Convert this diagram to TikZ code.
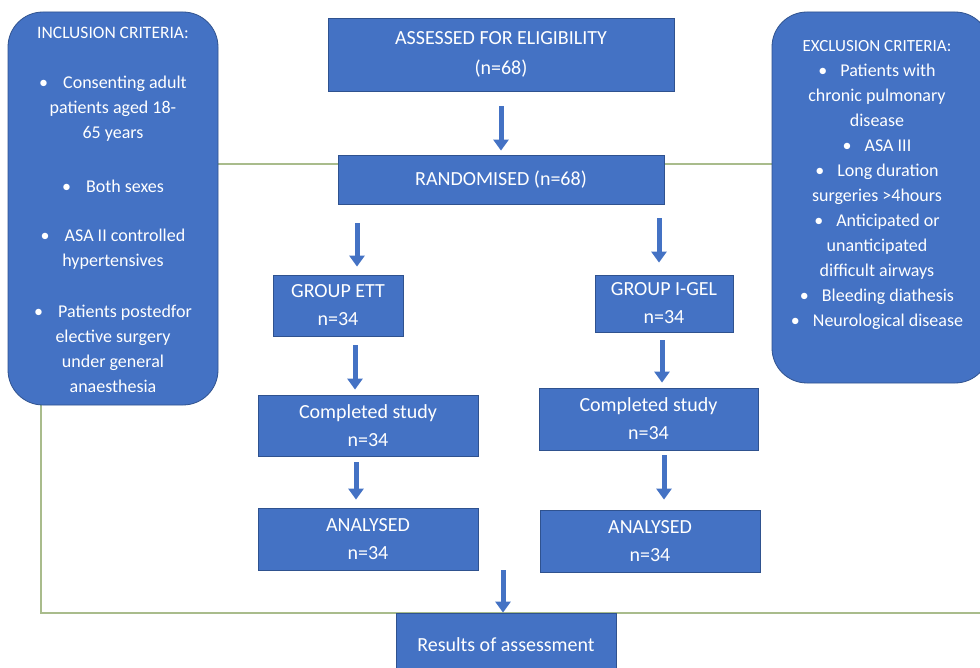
\documentclass[tikz,border=0pt]{standalone}
\usepackage{fontspec}
\setmainfont{Carlito}
\usetikzlibrary{arrows.meta,backgrounds}
\definecolor{boxblue}{HTML}{4472C4}
\definecolor{edgeblue}{HTML}{2F528F}
\definecolor{linegreen}{HTML}{A9BC8C}
\begin{document}
\begin{tikzpicture}[x=1pt,y=-1pt,
  fbox/.style={draw=edgeblue, line width=0.8pt, fill=boxblue, text=white, align=center, inner sep=0pt, font=\fontsize{20}{28}\selectfont},
  rbox/.style={draw=edgeblue, line width=0.8pt, fill=boxblue, rounded corners=35pt, inner sep=0pt},
  crit/.style={text=white, align=center, inner sep=0pt, font=\fontsize{18}{25}\selectfont},
  arr/.style={draw=boxblue, line width=5pt, -{Triangle[width=15pt,length=11pt]}},
  gline/.style={draw=linegreen, line width=1.5pt}]
\useasboundingbox (0,0) rectangle (980,668);
% criteria boxes
\node[rbox, minimum width=210pt, minimum height=393pt] (inc) at (113,208.5) {};
\node[rbox, minimum width=218pt, minimum height=371pt] (exc) at (881,197.5) {};
\node[crit, font=\fontsize{17.5}{25}\selectfont] (inch) at (113,33) {INCLUSION CRITERIA:};
\node[crit] (inc1) at (113,109) {•\hspace{15pt}Consenting adult\\patients aged 18-\\65 years};
\node[crit] (inc2) at (113,186) {•\hspace{15pt}Both sexes};
\node[crit] (inc3) at (113,249) {•\hspace{15pt}ASA II controlled\\hypertensives};
\node[crit] (inc4) at (113,349) {•\hspace{15pt}Patients postedfor\\elective surgery\\under general\\anaesthesia};
\node[crit] (exct) at (877,185.5) {{\fontsize{17}{25}\selectfont EXCLUSION CRITERIA:}\\
  •\hspace{13pt}Patients with\\chronic pulmonary\\disease\\
  •\hspace{13pt}ASA III\\
  •\hspace{13pt}Long duration\\surgeries >4hours\\
  •\hspace{13pt}Anticipated or\\unanticipated\\difficult airways\\
  •\hspace{13pt}Bleeding diathesis\\
  •\hspace{13pt}Neurological disease};
% flow boxes
\node[fbox, minimum width=346pt, minimum height=73pt, font=\fontsize{20}{30}\selectfont] (assess) at (501,54.5) {ASSESSED FOR ELIGIBILITY\\(n=68)};
\node[fbox, minimum width=326pt, minimum height=49pt] (rand) at (501,179.5) {RANDOMISED (n=68)};
\node[fbox, minimum width=130pt, minimum height=61pt] (ett) at (338,305.5) {GROUP ETT\\n=34};
\node[fbox, minimum width=138pt, minimum height=57pt] (igel) at (664,303.5) {GROUP I-GEL\\n=34};
\node[fbox, minimum width=220pt, minimum height=61pt] (comp1) at (368,425.5) {Completed study\\n=34};
\node[fbox, minimum width=219pt, minimum height=62pt] (comp2) at (648.5,419) {Completed study\\n=34};
\node[fbox, minimum width=220pt, minimum height=62pt] (ana1) at (368,539) {ANALYSED\\n=34};
\node[fbox, minimum width=220pt, minimum height=62pt] (ana2) at (650,541) {ANALYSED\\n=34};
\node[fbox, minimum width=220pt, minimum height=64pt] (res) at (506,645) {Results of assessment};
% green lines
\coordinate (bl) at (41,613);
\coordinate (br) at (980,613);
\begin{scope}[on background layer]
\fill[white] (0,0) rectangle (980,668);
\draw[gline] (inc.east |- 0,164) -- (exc.west |- 0,164);
\draw[gline] (inc.south -| bl) -- (bl) -- (br);
\end{scope}
% arrows
\draw[arr, shorten <=15pt, shorten >=4pt] (assess.south -| 501,0) -- (rand.north -| 501,0);
\draw[arr, shorten <=19pt, shorten >=8pt] (rand.south -| 357,0) -- (ett.north -| 357,0);
\draw[arr, shorten <=14pt, shorten >=12pt] (rand.south -| 659,0) -- (igel.north -| 659,0);
\draw[arr, shorten <=9pt, shorten >=5pt] (ett.south -| 355,0) -- (comp1.north -| 355,0);
\draw[arr, shorten <=8pt, shorten >=5pt] (igel.south -| 662,0) -- (comp2.north -| 662,0);
\draw[arr, shorten <=6pt, shorten >=8pt] (comp1.south -| 356,0) -- (ana1.north -| 356,0);
\draw[arr, shorten <=5pt, shorten >=10pt] (comp2.south -| 664,0) -- (ana2.north -| 664,0);
\draw[arr] (ana1.south -| 503,0) -- (res.north -| 503,0);
\end{tikzpicture}
\end{document}
